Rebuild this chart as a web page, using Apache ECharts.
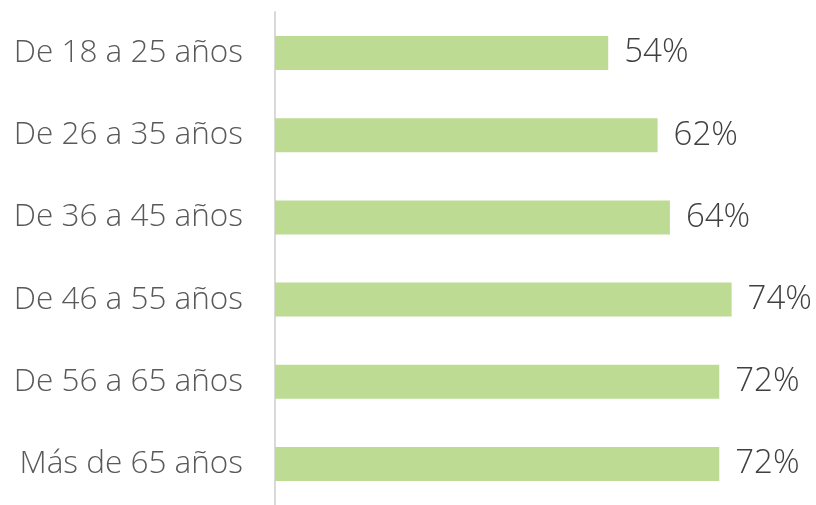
<!DOCTYPE html>
<html>
<head>
<meta charset="utf-8">
<script src="https://cdn.jsdelivr.net/npm/echarts@6/dist/echarts.min.js"></script>
<style>
  html, body { margin: 0; padding: 0; background: #ffffff; }
  #chart { width: 816px; height: 505px; }
</style>
</head>
<body>
<div id="chart"></div>
<script>
// Age groups, top to bottom
const categories = [
  'De 18 a 25 años',
  'De 26 a 35 años',
  'De 36 a 45 años',
  'De 46 a 55 años',
  'De 56 a 65 años',
  'Más de 65 años'
];
// Share per age group (%)
const values = [54, 62, 64, 74, 72, 72];

const chart = echarts.init(document.getElementById('chart'), null, { renderer: 'canvas' });

const fontFamily = '"Open Sans", "Noto Sans", "DejaVu Sans", sans-serif';

chart.setOption({
  animation: false,
  backgroundColor: '#ffffff',
  grid: {
    left: 275,
    right: 16.5,
    top: 12,
    bottom: -5,
    containLabel: false
  },
  xAxis: {
    type: 'value',
    min: 0,
    max: 85,
    show: false
  },
  yAxis: {
    type: 'category',
    data: categories,
    inverse: true,
    axisLine: { show: true, lineStyle: { color: '#d9d9d9', width: 2 } },
    axisTick: { show: false },
    axisLabel: {
      margin: 32,
      color: '#595959',
      fontFamily: fontFamily,
      fontSize: 31.5,
      fontWeight: 300
    },
    splitLine: { show: false }
  },
  series: [{
    type: 'bar',
    data: values,
    barWidth: 34,
    itemStyle: { color: '#bddb93' },
    label: {
      show: true,
      position: 'right',
      distance: 16,
      formatter: p => p.value + '%',
      color: '#404040',
      fontFamily: fontFamily,
      fontSize: 33,
      fontWeight: 300
    }
  }]
});
</script>
</body>
</html>
